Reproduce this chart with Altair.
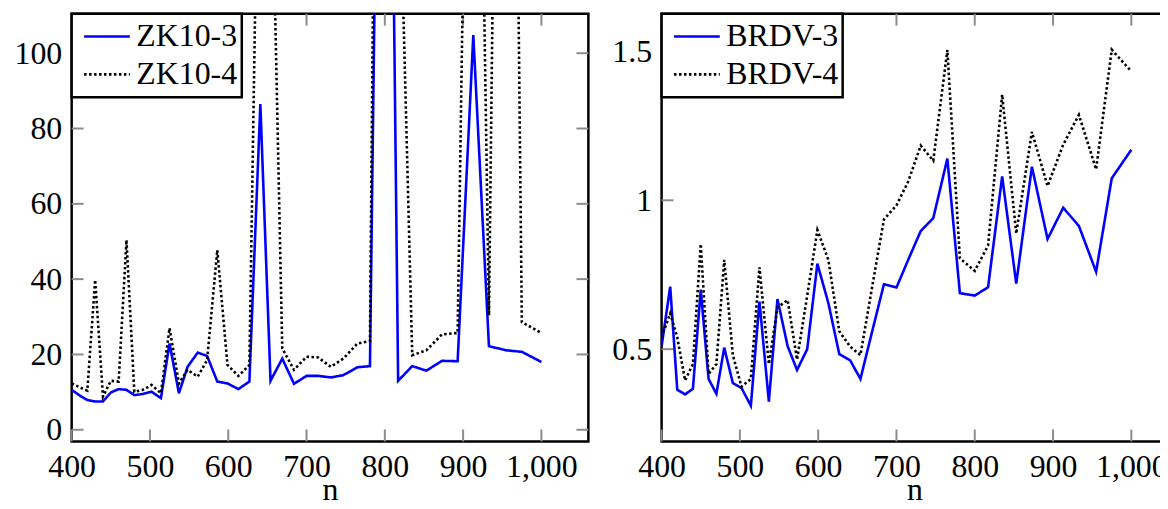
import altair as alt
import pandas as pd

# ---- data ----
n_values = [400, 411, 420, 430, 440, 450, 460, 470, 480, 491, 502, 514, 525, 537,
            548, 561, 573, 586, 599, 613, 627, 641, 654, 669, 684, 700, 715, 731,
            747, 765, 781, 800, 817, 835, 853, 873, 893, 913, 933, 955, 975, 1000]

zk10_3 = [10.6, 9.0, 7.9, 7.5, 7.5, 9.9, 10.8, 10.6, 9.2, 9.5, 10.1, 8.4, 22.9, 9.7,
          16.7, 20.5, 19.6, 12.8, 12.3, 10.8, 12.8, 86.5, 13.0, 18.9, 12.2, 14.3, 14.3, 13.9,
          14.5, 16.6, 16.9, 330.0, 13.0, 16.9, 15.7, 18.3, 18.2, 104.8, 22.2, 21.1, 20.7, 18.0]

zk10_4 = [12.3, 11.2, 10.4, 39.8, 8.8, 13.0, 12.8, 50.4, 10.1, 10.6, 11.9, 9.7, 27.0, 12.3,
          15.9, 14.1, 18.5, 47.7, 17.2, 14.3, 17.2, 197.0, 169.0, 21.6, 15.9, 19.4, 19.2, 16.7,
          18.9, 22.9, 23.6, 470.0, 165.0, 19.8, 21.1, 25.3, 25.7, 300.0, 30.4, 425.0, 28.6, 25.7]

brdv_3 = [0.51, 0.71, 0.364, 0.348, 0.367, 0.70, 0.40, 0.35, 0.505, 0.386, 0.37, 0.31, 0.66, 0.324,
          0.668, 0.51, 0.43, 0.50, 0.787, 0.655, 0.483, 0.462, 0.40, 0.56, 0.718, 0.707, 0.80, 0.897,
          0.94, 1.14, 0.688, 0.68, 0.708, 1.08, 0.72, 1.113, 0.87, 0.975, 0.914, 0.76, 1.074, 1.17]

brdv_4 = [0.54, 0.62, 0.54, 0.395, 0.45, 0.853, 0.417, 0.45, 0.80, 0.48, 0.374, 0.40, 0.775, 0.45,
          0.64, 0.665, 0.465, 0.68, 0.90, 0.80, 0.56, 0.508, 0.48, 0.71, 0.936, 0.983, 1.063, 1.184,
          1.133, 1.505, 0.805, 0.763, 0.848, 1.355, 0.888, 1.23, 1.048, 1.187, 1.287, 1.104, 1.506, 1.433]

x_ticks = [400, 500, 600, 700, 800, 900, 1000]
zk_y_ticks = [0, 20, 40, 60, 80, 100]
brdv_y_ticks = [0.5, 1.0, 1.5]

FONT = "Liberation Serif, Times New Roman, DejaVu Serif, serif"
FS = 32
TICK_GRAY = "#8c8c8c"
H = 430
W_LEFT = 519.4
W_RIGHT = 508.3          # right panel is cut by the window edge
X_MAX_LEFT = 1060
X_MAX_RIGHT = 400 + (1060 - 400) * W_RIGHT / W_LEFT


def long_df(names, series):
    rows = []
    for name, vals in zip(names, series):
        for n, v in zip(n_values, vals):
            rows.append({"n": n, "value": v, "series": name})
    return pd.DataFrame(rows)


def panel(names, series, y_domain, y_ticks, y_format, width, x_max, cut):
    df = long_df(names, series)
    xdf = pd.DataFrame({"n": x_ticks})
    ydf = pd.DataFrame({"value": y_ticks})

    X = alt.X("n:Q",
              scale=alt.Scale(domain=[400, x_max], nice=False, zero=False),
              axis=alt.Axis(values=x_ticks, format=",d", title="n",
                            labelFlush=False, labelOverlap=False,
                            labelPadding=10, titleY=58.8,
                            titleBaseline="alphabetic"))
    Y = alt.Y("value:Q",
              scale=alt.Scale(domain=y_domain, nice=False, zero=False),
              axis=alt.Axis(values=y_ticks, format=y_format, title=None,
                            labelFlush=False, labelOverlap=False,
                            labelPadding=10))

    tick = dict(color=TICK_GRAY, strokeWidth=2)
    layers = [
        alt.Chart(ydf).mark_rule(**tick).encode(y=Y, x=alt.value(0), x2=alt.value(12)),
        alt.Chart(xdf).mark_rule(**tick).encode(x=X, y=alt.value(0), y2=alt.value(12)),
        alt.Chart(xdf).mark_rule(**tick).encode(x=X, y=alt.value(H - 12), y2=alt.value(H)),
    ]
    if cut:
        layers.append(alt.Chart(ydf).mark_rule(**tick).encode(
            y=Y, x=alt.value(width - 3), x2=alt.value(width)))
    else:
        layers.append(alt.Chart(ydf).mark_rule(**tick).encode(
            y=Y, x=alt.value(width - 12), x2=alt.value(width)))

    leg = alt.Legend(title=None, orient="top-left",
                     labelExpr="datum.label + '\u00a0\u00a0'")
    lines = alt.Chart(df).mark_line(clip=True, strokeWidth=2.6).encode(
        x=X, y=Y,
        color=alt.Color("series:N",
                        scale=alt.Scale(domain=names, range=["#0000ff", "#000000"]),
                        legend=leg),
        strokeDash=alt.StrokeDash("series:N",
                                  scale=alt.Scale(domain=names, range=[[1, 0], [2.5, 2.5]]),
                                  legend=leg),
    )
    layers.append(lines)
    return alt.layer(*layers).properties(width=width, height=H)


left = panel(["ZK10-3", "ZK10-4"], [zk10_3, zk10_4], [-3.1, 110.5], zk_y_ticks, "d",
             W_LEFT, X_MAX_LEFT, False)
right = panel(["BRDV-3", "BRDV-4"], [brdv_3, brdv_4], [0.19, 1.627], brdv_y_ticks, "~g",
              W_RIGHT, X_MAX_RIGHT, True)

chart = alt.hconcat(left, right, spacing=73, bounds="flush").resolve_scale(
    color="independent", strokeDash="independent"
).properties(
    padding={"left": 4, "top": 1.4, "right": -10, "bottom": -3},
    background="white",
).configure_view(
    stroke="black", strokeWidth=2.5
).configure_axis(
    labelFont=FONT, labelFontSize=FS, labelColor="black",
    titleFont=FONT, titleFontSize=FS, titleFontWeight="normal", titleColor="black",
    grid=False, ticks=False, domain=False,
).configure_legend(
    labelFont=FONT, labelFontSize=FS, labelColor="black",
    strokeColor="black", strokeWidth=2.5, fillColor="white",
    padding=4, offset=0, symbolType="stroke", symbolSize=2116,
    symbolStrokeWidth=2.6, symbolOffset=7, labelOffset=5, rowPadding=0,
    clipHeight=38,
)

chart.save("out.html", embed_options={"renderer": "svg", "actions": False})
